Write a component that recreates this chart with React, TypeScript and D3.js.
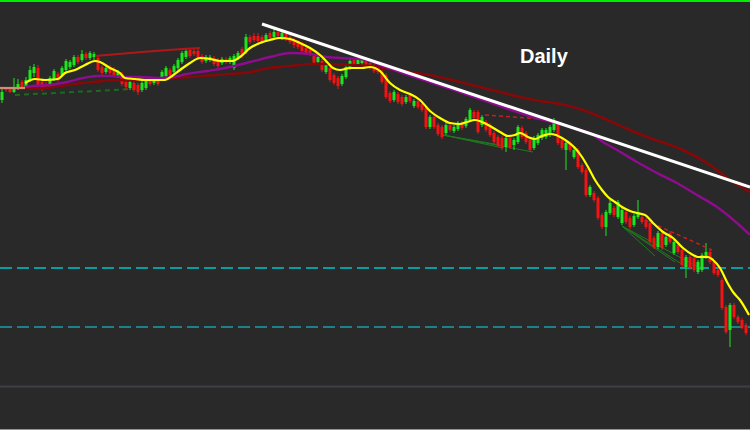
import React from "react";
import * as d3 from "d3";

const W = 750;
const H = 430;

// Daily OHLC (price units)
const candleOpen = [
  330,342,341,338,342,348,343,350,357,362, 348,346,343,351,356,355,360,363,365,373,
  370,376,372,373,372,363,358,363,361,354, 356,348,342,347,345,340,342,350,347,350,
  351,354,360,358,362,368,373,380,379,379, 374,369,370,372,370,367,371,368,362,372,
  381,378,393,394,394,393,390,397,393,398, 392,396,393,390,388,386,382,380,374,368,
  369,358,362,355,352,346,353,362,370,366, 367,369,367,364,362,358,355,337,330,336,
  333,328,335,324,329,326,322,303,313,305, 303,297,305,299,301,307,304,310,318,318,
  305,308,305,297,293,292,283,292,285,288, 302,297,290,282,287,292,293,295,300,307,
  290,280,287,273,280,265,260,235,237,232, 215,203,217,222,213,207,218,212,205,213,
  213,210,207,192,183,197,185,197,177,185, 180,163,173,172,158,160,173,178,168,160,
  150,123,100,125,113,110,105,
];
const candleHigh = [
  341,343,343,352,351,350,353,364,366,365, 350,348,354,361,358,364,371,370,375,375,
  380,378,379,378,375,365,364,365,363,360, 358,350,350,349,347,349,352,352,353,352,
  360,364,362,366,372,379,381,382,381,381, 376,375,375,374,372,373,373,374,376,379,
  383,396,395,397,397,395,397,399,401,400, 399,398,395,392,390,388,384,382,376,375,
  371,368,364,357,354,356,365,371,372,372, 372,371,369,366,364,360,357,339,340,338,
  335,335,337,331,331,328,324,315,315,307, 305,308,307,305,309,309,313,322,320,320,
  315,310,307,299,295,294,296,294,292,305, 304,299,292,294,297,302,302,305,312,309,
  292,289,289,282,282,267,262,245,239,234, 217,220,230,224,230,222,220,214,216,230,
  215,212,209,194,199,199,195,199,190,187, 182,175,175,174,170,177,187,180,170,162,
  152,125,127,127,115,112,107,
];
const candleLow = [
  327,338,337,337,340,341,341,348,353,342, 339,341,342,349,348,353,358,361,363,366,
  368,370,370,370,358,355,356,355,353,352, 344,341,340,338,335,338,340,344,345,344,
  349,352,353,356,360,366,371,372,374,370, 366,367,368,364,362,365,366,366,360,370,
  372,376,386,388,387,386,388,390,391,392, 390,389,386,382,381,377,375,374,365,366,
  358,356,348,345,341,344,351,360,364,364, 365,363,360,357,356,346,331,327,328,326,
  324,326,327,322,321,318,301,301,301,294, 291,295,298,297,299,300,302,308,310,296,
  303,298,293,286,283,280,278,281,280,286, 291,286,278,280,285,290,291,293,298,285,
  280,260,278,271,261,256,233,233,228,210, 201,194,215,213,211,205,206,201,203,211,
  206,201,186,181,181,180,183,186,175,176, 163,152,160,158,156,158,171,166,155,153,
  120,96,83,111,106,101,95,
];
const candleClose = [
  338,340,338,342,346,343,350,360,363,344, 341,343,352,359,350,362,369,368,373,368,
  376,372,377,376,360,357,362,357,355,358, 346,343,348,340,338,347,350,346,351,346,
  358,362,355,364,370,377,379,374,376,372, 368,373,373,366,364,371,368,372,374,377,
  374,393,388,390,389,388,395,392,398,394, 397,391,388,385,383,379,377,376,367,373,
  360,366,350,347,344,354,363,369,366,370, 370,365,362,359,358,348,333,329,338,328,
  326,333,329,329,323,320,303,313,303,296, 293,305,300,303,307,302,311,320,312,298,
  313,300,295,288,285,282,292,283,290,303, 293,288,280,292,295,300,300,303,308,287,
  282,287,280,280,263,258,235,243,230,212, 203,218,227,215,228,220,208,203,214,218,
  208,203,188,183,197,182,193,188,188,178, 165,173,162,160,168,175,178,168,157,155,
  122,98,125,113,108,103,97,
];

// Moving averages: [candle index, price]
const fastMA: [number, number][] = [
  [5.75,347],[8.25,351],[10.75,350],[14,351],[15.75,357],[18.25,360],[20.75,365],[23.25,369],
  [24.5,368],[27,362],[29.5,357],[30.75,352],[33.25,351],[35.75,350],[40.75,350],[42.5,354],
  [44.5,360],[47,367],[49.5,372],[52,371],[54.5,369],[57.5,369],[59.5,373],[62,382],[64.5,387],
  [67,390],[69.5,392],[72,391],[74.5,387],[77,382],[79.5,375],[81.25,368],[82.75,362],[84.5,360],
  [87,362],[90,362],[92,363],[94.5,359],[97,347],[99.5,340],[102,336],[104.5,330],[107,319],
  [109.5,312],[112,307],[114.5,306],[116.25,308],[118.25,310],[120,308],[122,304],[124.5,298],
  [126.5,294],[128.25,295],[129.5,297],[131.5,293],[133.25,291],[135,294],[137,296],[138.5,295],
  [140,292],[141.5,288],[143.25,282],[145,273],[146.5,263],[148.25,250],[150,240],[151.5,233],
  [153.25,228],[155,223],[157,219],[158.75,217],[160.75,215],[162.75,207],[165.25,198],
  [167.75,192],[170.25,182],[172.75,175],[174,173],[176.5,173],[177.75,170],[179.5,162],
  [181.25,148],[182.75,138],[184.5,130],[186.75,115],
];
const midMA: [number, number][] = [
  [5.75,343],[7.75,344],[12,345],[16.25,348],[20.25,352],[23.75,354],[27,354],[31.25,353],
  [34.5,353],[38.75,352],[42.75,353],[46.25,356],[51.25,359],[57,363],[62,368],[67,373],
  [72,377],[77,376],[81.25,373],[84.5,372],[89.5,371],[92,369],[94.5,365],[114.5,338],
  [134.5,311],[139.5,306],[144.5,300],[147,297],[150.25,288],[153.75,280],[158.75,268],
  [163.75,257],[168.75,247],[173.75,235],[178.75,223],[183.75,207],[187,195],
];
const slowMA: [number, number][] = [
  [5.75,342],[7.75,341],[16.25,345],[22.75,348],[28.75,350],[34.5,350],[39.5,351],[46.25,353],
  [53.75,355],[62,358],[67,362],[72,364],[77,366],[82,366],[87,365],[92,364],[97,361],[102,358],
  [107,355],[114.5,348],[119.5,343],[124.5,338],[129.5,333],[134.5,329],[139.5,326],[144.5,321],
  [150.25,312],[157,300],[162,292],[170.25,280],[177,265],[182,250],[187,238],
];
const startSegment: [number, number][] = [[-0.6,342],[5.75,342]];

// Trend lines
const whiteTrend: [number, number][] = [[65,406],[187,243]];
const redResistance: [number, number][] = [[23.25,374],[35,378],[45,381],[49.5,382]];
const greenDashed: [number, number][] = [[3.25,335],[33.25,341]];
const redDashed: [number, number][][] = [
  [[120.75,315],[138.25,310]],
  [[160.75,210],[177.5,180]],
];
const greenFans: [number, number][][] = [
  [[110.25,295],[124.5,285]],
  [[110.25,295],[125.25,282]],
  [[110.25,295],[132.75,278]],
  [[155,204],[174.5,162]],
  [[155,204],[171.5,162]],
  [[155,204],[168.25,168]],
  [[155,204],[163.25,174]],
];
const levels = [162, 103];
const levelColors = ["#00c4c8", "#1a9ea6"];
const titleText = "Daily";

export default function App() {
  const x = d3.scaleLinear().domain([0, candleOpen.length - 1]).range([2, 746]);
  const y = d3.scaleLinear().domain([0, 430]).range([H, 0]);
  const smooth = d3.line<[number, number]>().x(d => x(d[0])).y(d => y(d[1])).curve(d3.curveMonotoneX);
  const straight = d3.line<[number, number]>().x(d => x(d[0])).y(d => y(d[1]));
  const bodyW = 3;
  const red = "#f41212";
  const green = "#1ee61e";

  return (
    <svg width={W} height={H} style={{ position: "absolute", left: 0, top: 0, display: "block" }}>
      <rect x={0} y={0} width={W} height={H} fill="#292929" />
      {levels.map((lv, k) => (
        <line key={k} x1={0} x2={W} y1={y(lv)} y2={y(lv)} stroke={levelColors[k]} strokeWidth={1.6} strokeDasharray="12 5" />
      ))}
      <line x1={0} x2={W} y1={386.5} y2={386.5} stroke="#3c4046" strokeWidth={2} />
      <path d={straight(greenDashed) || ""} stroke="#1c6a1c" strokeWidth={2} strokeDasharray="5 4" fill="none" />
      {greenFans.map((f, k) => (
        <path key={k} d={straight(f) || ""} stroke="#1f7a1f" strokeWidth={1} fill="none" />
      ))}
      <g>
        {candleOpen.map((o, i) => {
          const c = candleClose[i];
          const up = c >= o;
          const col = up ? green : red;
          const top = y(Math.max(o, c));
          const bot = y(Math.min(o, c));
          return (
            <g key={i}>
              <line x1={x(i)} x2={x(i)} y1={y(candleHigh[i])} y2={y(candleLow[i])} stroke={col} strokeWidth={1} />
              <rect x={x(i) - bodyW / 2} y={top} width={bodyW} height={Math.max(1, bot - top)} fill={col} />
            </g>
          );
        })}
      </g>
      {redDashed.map((f, k) => (
        <path key={k} d={straight(f) || ""} stroke="#c81e1e" strokeWidth={1.5} strokeDasharray="4 3" fill="none" />
      ))}
      <path d={straight(redResistance) || ""} stroke="#b01818" strokeWidth={1.8} fill="none" />
      <path d={smooth(slowMA) || ""} stroke="#860808" strokeWidth={2.6} fill="none" />
      <path d={smooth(midMA) || ""} stroke="#8e0c8e" strokeWidth={2.4} fill="none" />
      <path d={straight(startSegment) || ""} stroke="#d88a72" strokeWidth={2.2} fill="none" />
      <path d={smooth(fastMA) || ""} stroke="#ffff00" strokeWidth={2.2} fill="none" />
      <path d={straight(whiteTrend) || ""} stroke="#ffffff" strokeWidth={3} fill="none" />
      <text x={520} y={63} fill="#ffffff" fontFamily="'Liberation Sans', Arial, sans-serif" fontWeight="bold" fontSize={20}>{titleText}</text>
      <line x1={0} x2={W} y1={1} y2={1} stroke="#00ee00" strokeWidth={2} />
      <line x1={0} x2={W} y1={429.5} y2={429.5} stroke="#3cd23c" strokeWidth={1} />
    </svg>
  );
}
